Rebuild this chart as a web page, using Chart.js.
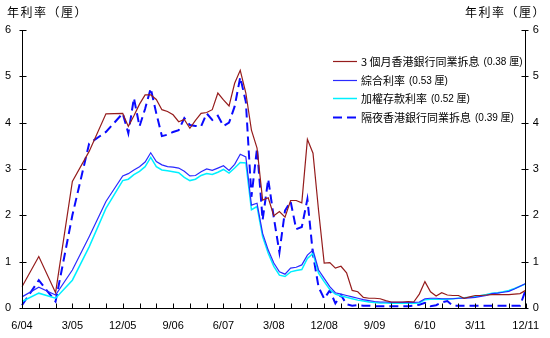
<!DOCTYPE html>
<html>
<head>
<meta charset="utf-8">
<script src="https://cdn.jsdelivr.net/npm/chart.js@4"></script>
<style>
  html, body { margin: 0; padding: 0; background: #fff; }
  #wrap { width: 550px; height: 338px; }
</style>
</head>
<body>
<div id="wrap"><canvas id="rateChart" width="550" height="338"></canvas></div>
<script>
// monthly categories 6/04 .. 12/11
const months = [];
for (let i = 0; i <= 90; i++) {
    const m = (5 + i) % 12 + 1;
    const yr = 4 + Math.floor((5 + i) / 12);
    months.push(m + '/' + String(yr).padStart(2, '0'));
}
const tickLabels = ['6/04', '3/05', '12/05', '9/06', '6/07', '3/08', '12/08', '9/09', '6/10', '3/11', '12/11'];
const yTicks = [0, 1, 2, 3, 4, 5, 6];
const axisTitle = '年利率（厘）';

const seriesNames = ['3 個月香港銀行同業拆息', '綜合利率', '加權存款利率', '隔夜香港銀行同業拆息'];
const latestNotes = ['(0.38 厘)', '(0.53 厘)', '(0.52 厘)', '(0.39 厘)'];

// 2004-05 only quarterly points, null = no point
const hibor3m = [
    0.46, null, null, 1.11, null, null, 0.33, null, null,
    2.73, null, null, 3.38, null, null, 4.19, null, null,
    4.20, 3.92, 4.15, 4.40, 4.60, 4.60, 4.50, 4.28, 4.24,
    4.17, 4.02, 4.07, 3.88, 4.05, 4.20, 4.22, 4.28, 4.64,
    4.49, 4.36, 4.85, 5.13, 4.64, 3.84, 3.45, 2.33, 2.38,
    1.99, 2.08, 1.96, 2.32, 2.32, 2.27, 3.64, 3.34, 2.10,
    0.97, 0.98, 0.86, 0.90, 0.76, 0.38, 0.35, 0.23, 0.21,
    0.21, 0.20, 0.16, 0.13, 0.13, 0.13, 0.14, 0.13, 0.30,
    0.57, 0.35, 0.26, 0.33, 0.28, 0.27, 0.27, 0.21, 0.24,
    0.27, 0.27, 0.28, 0.29, 0.29, 0.29, 0.29, 0.30, 0.31,
    0.38
];
const compositeRate = [
    0.24, null, null, 0.45, null, null, 0.28, null, null,
    0.82, null, null, 1.54, null, null, 2.30, null, null,
    2.85, 2.90, 2.98, 3.05, 3.15, 3.35, 3.16, 3.09, 3.05,
    3.04, 3.02, 2.95, 2.85, 2.86, 2.94, 3.00, 2.97, 3.02,
    3.07, 2.97, 3.10, 3.32, 3.26, 2.22, 2.26, 1.61, 1.25,
    0.97, 0.78, 0.73, 0.86, 0.88, 0.93, 1.14, 1.25, 0.82,
    0.64, 0.46, 0.33, 0.30, 0.27, 0.24, 0.21, 0.18, 0.16,
    0.14, 0.13, 0.13, 0.12, 0.12, 0.12, 0.12, 0.12, 0.13,
    0.20, 0.21, 0.21, 0.20, 0.20, 0.20, 0.21, 0.21, 0.22,
    0.23, 0.25, 0.27, 0.31, 0.32, 0.34, 0.36, 0.41, 0.47,
    0.53
];
const depositRate = [
    0.14, null, null, 0.32, null, null, 0.21, null, null,
    0.60, null, null, 1.32, null, null, 2.15, null, null,
    2.75, 2.78, 2.88, 2.95, 3.05, 3.25, 3.05, 2.98, 2.96,
    2.94, 2.92, 2.82, 2.75, 2.78, 2.86, 2.90, 2.88, 2.93,
    2.99, 2.91, 3.02, 3.14, 3.13, 2.12, 2.19, 1.54, 1.18,
    0.90, 0.71, 0.68, 0.78, 0.81, 0.83, 1.07, 1.18, 0.75,
    0.57, 0.40, 0.30, 0.26, 0.23, 0.20, 0.17, 0.15, 0.13,
    0.12, 0.11, 0.11, 0.10, 0.10, 0.10, 0.10, 0.10, 0.11,
    0.18, 0.19, 0.19, 0.19, 0.19, 0.20, 0.21, 0.22, 0.23,
    0.25, 0.27, 0.29, 0.32, 0.33, 0.35, 0.38, 0.42, 0.47,
    0.52
];
const hiborOvernight = [
    0.06, null, null, 0.60, null, null, 0.14, null, null,
    2.00, null, null, 3.55, null, null, 3.80, null, null,
    4.20, 3.77, 4.53, 3.92, 4.30, 4.74, 4.20, 3.71, 3.74,
    3.80, 3.84, 4.10, 3.95, 3.93, 3.92, 4.20, 4.06, 4.15,
    3.93, 4.00, 4.35, 4.98, 4.45, 2.40, 3.45, 1.90, 2.78,
    1.95, 1.20, 2.10, 2.30, 1.70, 1.75, 2.35, 1.15, 0.45,
    0.20, 0.38, 0.10, 0.28, 0.08, 0.05, 0.06, 0.05, 0.05,
    0.04, 0.04, 0.04, 0.04, 0.04, 0.04, 0.04, 0.05, 0.07,
    0.11, 0.04, 0.06, 0.12, 0.15, 0.05, 0.05, 0.05, 0.05,
    0.05, 0.05, 0.05, 0.05, 0.05, 0.05, 0.05, 0.05, 0.05,
    0.39
];

const cjkFont = '"Noto Sans CJK TC", "Noto Sans CJK SC", sans-serif';
const numFont = '"Liberation Sans", Arial, sans-serif';

// axes, tick marks, titles and legend drawn by hand
const framePlugin = {
    id: 'frame',
    afterDraw(chart) {
        const ctx = chart.ctx;
        const a = chart.chartArea;
        const xs = chart.scales.x, ys = chart.scales.y;
        const L = Math.floor(a.left) + 0.5, R = Math.floor(a.right) + 0.5;
        const B = Math.floor(a.bottom) + 0.5;
        const T = ys.getPixelForValue(6);

        ctx.save();
        ctx.strokeStyle = '#000';
        ctx.lineWidth = 1;
        ctx.beginPath();
        ctx.moveTo(L, T); ctx.lineTo(L, B); ctx.lineTo(R, B); ctx.lineTo(R, T);
        yTicks.forEach(v => {
            const py = Math.round(ys.getPixelForValue(v)) + 0.5;
            ctx.moveTo(L - 3, py); ctx.lineTo(L + 4, py);
            ctx.moveTo(R - 4, py); ctx.lineTo(R + 3, py);
        });
        for (let i = 0; i < months.length; i += 3) {
            const px = Math.round(xs.getPixelForValue(i)) + 0.5;
            ctx.moveTo(px, B); ctx.lineTo(px, B - 5);
        }
        ctx.stroke();

        // titles
        ctx.fillStyle = '#000';
        ctx.font = '12px ' + cjkFont;
        ctx.letterSpacing = '1.5px';
        ctx.textBaseline = 'middle';
        ctx.textAlign = 'left';
        ctx.fillText(axisTitle, 7, 12);
        ctx.textAlign = 'right';
        ctx.fillText(axisTitle, 546, 12);
        ctx.letterSpacing = '0px';

        // legend
        ctx.textAlign = 'left';
        chart.data.datasets.forEach((ds, k) => {
            const ly = Math.round(61 + k * 18.5) + 0.5;
            ctx.beginPath();
            ctx.strokeStyle = ds.borderColor;
            ctx.lineWidth = ds.borderWidth;
            ctx.setLineDash(ds.borderDash || []);
            ctx.moveTo(333, ly); ctx.lineTo(357, ly);
            ctx.stroke();
            ctx.setLineDash([]);
            ctx.fillStyle = '#000';
            ctx.font = '11px ' + cjkFont;
            ctx.fillText(seriesNames[k], 361, ly);
            const w = ctx.measureText(seriesNames[k]).width;
            ctx.font = '10px ' + numFont + ', ' + cjkFont;
            ctx.fillText(latestNotes[k], 361 + w + 4, ly + 0.5);
        });
        ctx.restore();
    }
};

const lineSet = (label, data, color, width, dash) => ({
    label: label,
    data: data,
    borderColor: color,
    borderWidth: width,
    borderDash: dash,
    pointRadius: 0,
    fill: false,
    tension: 0,
    spanGaps: true
});

new Chart(document.getElementById('rateChart'), {
    type: 'line',
    data: {
        labels: months,
        datasets: [
            lineSet(seriesNames[0], hibor3m, '#951c1c', 1.2, []),
            lineSet(seriesNames[1], compositeRate, '#2a2aff', 1.2, []),
            lineSet(seriesNames[2], depositRate, '#00f0ff', 1.5, []),
            lineSet(seriesNames[3], hiborOvernight, '#0a0aff', 2, [9, 5])
        ]
    },
    options: {
        responsive: false,
        animation: false,
        layout: { padding: { top: 30, left: 0, right: 0, bottom: 0 } },
        plugins: { legend: { display: false }, tooltip: { enabled: false } },
        scales: {
            x: {
                type: 'category',
                offset: false,
                grid: { display: false, drawTicks: false },
                border: { display: false },
                afterFit: s => { s.height = 30; },
                ticks: {
                    autoSkip: false,
                    maxRotation: 0,
                    minRotation: 0,
                    padding: 11,
                    color: '#000',
                    font: { family: numFont, size: 11 },
                    callback: function (val) {
                        const l = this.getLabelForValue(val);
                        return tickLabels.includes(l) ? l : '';
                    }
                }
            },
            y: {
                position: 'left',
                min: 0, max: 6,
                grid: { display: false, drawTicks: false },
                border: { display: false },
                afterFit: s => { s.width = 22; },
                ticks: { stepSize: 1, padding: 11, color: '#000', font: { family: numFont, size: 11 } }
            },
            y2: {
                position: 'right',
                min: 0, max: 6,
                grid: { display: false, drawTicks: false },
                border: { display: false },
                afterFit: s => { s.width = 20; },
                ticks: { stepSize: 1, padding: 7, color: '#000', font: { family: numFont, size: 11 } }
            }
        }
    },
    plugins: [framePlugin]
});
</script>
</body>
</html>
